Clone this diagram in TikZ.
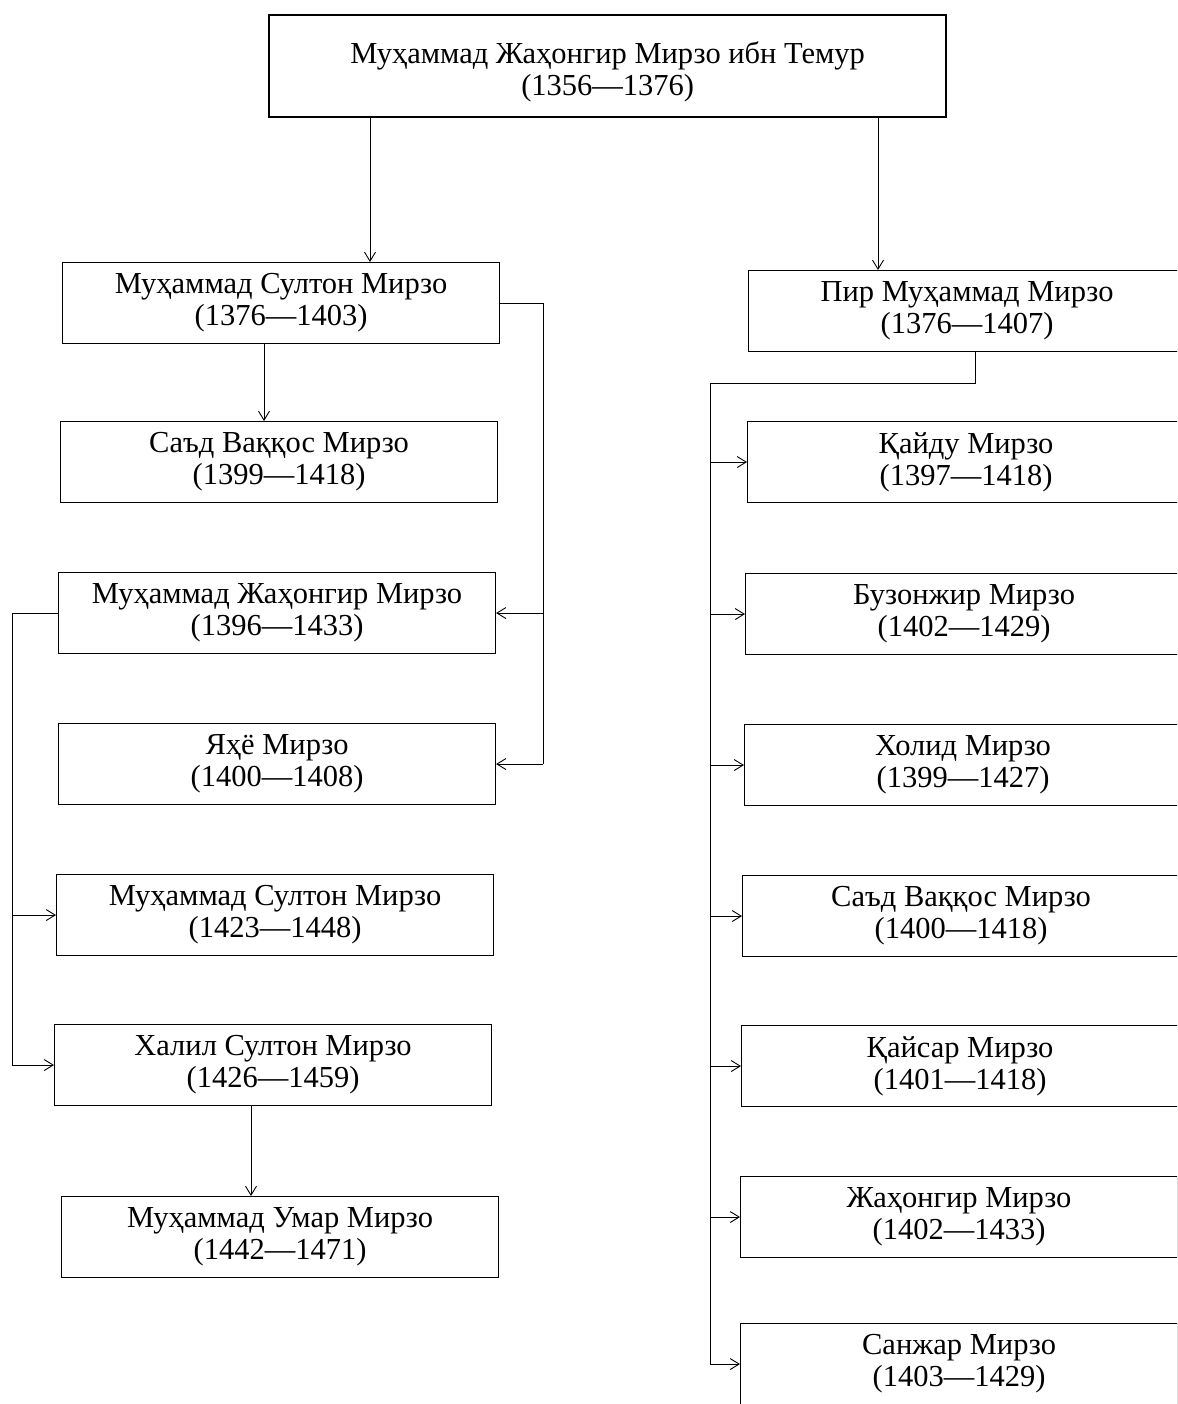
\documentclass[tikz,border=0pt]{standalone}
\usepackage{fontspec}
\setmainfont{Liberation Serif}
\usetikzlibrary{arrows.meta,calc}
\begin{document}
\begin{tikzpicture}[x=1pt,y=-1pt,
  box/.style={draw,line width=1.1pt,rectangle,anchor=north west,minimum width=437pt,minimum height=81pt,align=center,inner sep=0pt,font=\fontsize{30.5}{32}\selectfont},
  topbox/.style={box,line width=2.4pt,minimum width=677pt,minimum height=102pt},
  txt/.style={align=center,inner sep=0pt,font=\fontsize{30.5}{32}\selectfont},
  conn/.style={line width=0.9pt},
  arr/.style={conn,-{Straight Barb[length=9pt,width=11pt,line width=0.9pt]}}]
\useasboundingbox (0,0) rectangle (1177,1404);
\clip (0,0) rectangle (1177,1404);
\fill[white] (0,0) rectangle (1177,1404);
% top
\node[topbox] (top) at (268,14) {};
\node[txt] (toptext) at ([yshift=-6pt]top.center) {Муҳаммад Жаҳонгир Мирзо ибн Темур\\(1356—1376)};
% left column
\node[box] (L1) at (62,262) {Муҳаммад Султон Мирзо\\(1376—1403)};
\node[box] (L2) at (60,421) {Саъд Ваққос Мирзо\\(1399—1418)};
\node[box] (L3) at (58,572) {Муҳаммад Жаҳонгир Мирзо\\(1396—1433)};
\node[box] (L4) at (58,723) {Яҳё Мирзо\\(1400—1408)};
\node[box] (L5) at (56,874) {Муҳаммад Султон Мирзо\\(1423—1448)};
\node[box] (L6) at (54,1024) {Халил Султон Мирзо\\(1426—1459)};
\node[box] (L7) at (61,1196) {Муҳаммад Умар Мирзо\\(1442—1471)};
% right column
\node[box] (R0) at (748,270) {Пир Муҳаммад Мирзо\\(1376—1407)};
\node[box] (R1) at (747,421) {Қайду Мирзо\\(1397—1418)};
\node[box] (R2) at (745,573) {Бузонжир Мирзо\\(1402—1429)};
\node[box] (R3) at (744,724) {Холид Мирзо\\(1399—1427)};
\node[box] (R4) at (742,875) {Саъд Ваққос Мирзо\\(1400—1418)};
\node[box] (R5) at (741,1025) {Қайсар Мирзо\\(1401—1418)};
\node[box] (R6) at (740,1176) {Жаҳонгир Мирзо\\(1402—1433)};
\node[box] (R7) at (740,1323) {Санжар Мирзо\\(1403—1429)};
% helper coordinates
\coordinate (xa) at (370,0);
\coordinate (xb) at (878,0);
\coordinate (xc) at (264,0);
\coordinate (xd) at (251,0);
\coordinate (bL) at (543,0);
\coordinate (bF) at (12,0);
\coordinate (xr) at (975,0);
\coordinate (rj) at (710,383);
% connectors
\draw[arr] (top.south -| xa) -- (L1.north -| xa);
\draw[arr] (top.south -| xb) -- (R0.north -| xb);
\draw[arr] (L1.south -| xc) -- (L2.north -| xc);
\draw[arr] (L6.south -| xd) -- (L7.north -| xd);
\draw[conn] (L1.east) -| (bL |- L4.east);
\draw[arr] (bL |- L3.east) -- (L3.east);
\draw[arr] (bL |- L4.east) -- (L4.east);
\draw[conn] (L3.west) -| (bF |- L6.west);
\draw[arr] (bF |- L5.west) -- (L5.west);
\draw[arr] (bF |- L6.west) -- (L6.west);
\draw[conn] (R0.south -| xr) |- (rj) -- (rj |- R7.west);
\foreach \n in {R1,R2,R3,R4,R5,R6,R7}
  \draw[arr] (rj |- \n.west) -- (\n.west);
\end{tikzpicture}
\end{document}
